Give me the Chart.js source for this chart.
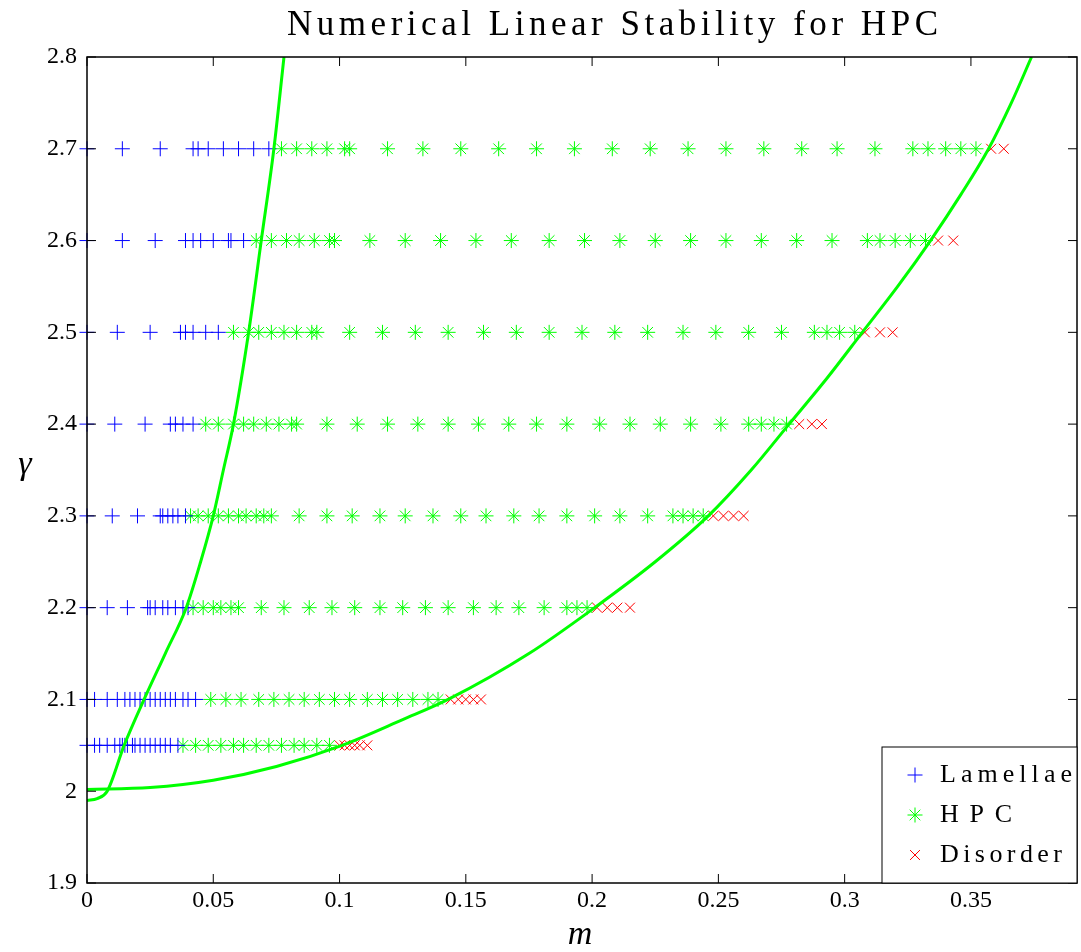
<!DOCTYPE html>
<html>
<head>
<meta charset="utf-8">
<script src="https://cdn.jsdelivr.net/npm/chart.js@4"></script>
<style>
body { margin: 0; background: #fff; }
</style>
</head>
<body>
<canvas id="stability" width="1081" height="952"></canvas>
<script>

// gamma rows of the numerical scan
var gammaLevels = [2.05, 2.1, 2.2, 2.3, 2.4, 2.5, 2.6, 2.7];

// m values per row, one list per gamma level
var lamellaeM = [
	[0.0, 0.003, 0.005, 0.008, 0.011, 0.013, 0.014, 0.015, 0.016, 0.018, 0.019, 0.021, 0.023, 0.025, 0.027, 0.029, 0.031, 0.033, 0.036],
	[0.0, 0.003, 0.008, 0.012, 0.015, 0.017, 0.019, 0.021, 0.023, 0.025, 0.027, 0.029, 0.031, 0.033, 0.035, 0.038, 0.040, 0.043],
	[0.0, 0.008, 0.016, 0.024, 0.025, 0.027, 0.030, 0.032, 0.035, 0.038, 0.040],
	[0.0, 0.010, 0.020, 0.029, 0.030, 0.032, 0.034, 0.036, 0.039],
	[0.0, 0.011, 0.023, 0.033, 0.035, 0.038, 0.042],
	[0.0, 0.012, 0.025, 0.037, 0.039, 0.042, 0.047, 0.052],
	[0.0, 0.014, 0.027, 0.039, 0.042, 0.045, 0.050, 0.056, 0.057, 0.062],
	[0.0, 0.014, 0.029, 0.042, 0.044, 0.048, 0.054, 0.060, 0.066, 0.072]
];
var hpcM = [
	[0.038, 0.043, 0.048, 0.053, 0.058, 0.062, 0.067, 0.072, 0.077, 0.082, 0.086, 0.091, 0.096],
	[0.049, 0.055, 0.061, 0.068, 0.074, 0.080, 0.086, 0.092, 0.098, 0.104, 0.111, 0.117, 0.123, 0.129, 0.135, 0.139],
	[0.042, 0.046, 0.050, 0.053, 0.057, 0.060, 0.069, 0.078, 0.088, 0.097, 0.106, 0.116, 0.125, 0.134, 0.143, 0.153, 0.162, 0.171, 0.181, 0.190, 0.194, 0.198],
	[0.041, 0.044, 0.048, 0.052, 0.056, 0.060, 0.063, 0.067, 0.070, 0.073, 0.084, 0.095, 0.105, 0.116, 0.126, 0.137, 0.148, 0.158, 0.169, 0.179, 0.190, 0.201, 0.211, 0.222, 0.232, 0.236, 0.240, 0.244],
	[0.047, 0.052, 0.058, 0.062, 0.066, 0.071, 0.076, 0.081, 0.083, 0.095, 0.107, 0.119, 0.131, 0.143, 0.155, 0.167, 0.178, 0.190, 0.203, 0.215, 0.227, 0.239, 0.251, 0.262, 0.267, 0.272, 0.277],
	[0.058, 0.064, 0.068, 0.073, 0.078, 0.083, 0.089, 0.091, 0.104, 0.117, 0.130, 0.143, 0.157, 0.170, 0.183, 0.196, 0.209, 0.222, 0.236, 0.249, 0.262, 0.275, 0.288, 0.293, 0.298, 0.304],
	[0.067, 0.073, 0.079, 0.084, 0.090, 0.096, 0.098, 0.112, 0.126, 0.140, 0.154, 0.168, 0.183, 0.197, 0.211, 0.225, 0.239, 0.253, 0.267, 0.281, 0.295, 0.309, 0.314, 0.320, 0.326, 0.332],
	[0.077, 0.083, 0.089, 0.095, 0.102, 0.104, 0.119, 0.133, 0.148, 0.163, 0.178, 0.193, 0.208, 0.223, 0.238, 0.253, 0.268, 0.283, 0.297, 0.312, 0.327, 0.333, 0.340, 0.346, 0.352]
];
var disorderM = [
	[0.100, 0.102, 0.104, 0.106, 0.108, 0.111],
	[0.144, 0.147, 0.150, 0.153, 0.156],
	[0.202, 0.206, 0.210, 0.215],
	[0.248, 0.252, 0.256, 0.260],
	[0.282, 0.287, 0.291],
	[0.308, 0.314, 0.319],
	[0.337, 0.343],
	[0.358, 0.363]
];

// the two boundary curves
var leftCurveM     = [0, 0.004, 0.008, 0.0147, 0.0226, 0.031, 0.0393, 0.045, 0.050, 0.054, 0.058, 0.064, 0.069, 0.074, 0.078];
var leftCurveGamma = [1.99, 1.992, 2.0, 2.05, 2.1, 2.15, 2.2, 2.25, 2.3, 2.35, 2.4, 2.5, 2.6, 2.7, 2.8];
var rightCurveM     = [0, 0.025, 0.05, 0.075, 0.101, 0.125, 0.143, 0.175, 0.201, 0.225, 0.246, 0.263, 0.278, 0.293, 0.307, 0.321, 0.334, 0.346, 0.357, 0.366, 0.374];
var rightCurveGamma = [2.002, 2.004, 2.012, 2.027, 2.05, 2.078, 2.1, 2.15, 2.2, 2.25, 2.3, 2.35, 2.4, 2.45, 2.5, 2.55, 2.6, 2.65, 2.7, 2.75, 2.8];

var xTicks = [0, 0.05, 0.1, 0.15, 0.2, 0.25, 0.3, 0.35];
var yTicks = [1.9, 2, 2.1, 2.2, 2.3, 2.4, 2.5, 2.6, 2.7, 2.8];
var seriesNames = ["Lamellae", "HPC", "Disorder"];

function toPoints(rows) {
	var pts = [];
	for (var i = 0; i < rows.length; i++) {
		for (var j = 0; j < rows[i].length; j++) {
			pts.push({x: rows[i][j], y: gammaLevels[i]});
		}
	}
	return pts;
}
function zipCurve(ms, gs) {
	var pts = [];
	for (var i = 0; i < ms.length; i++) pts.push({x: ms[i], y: gs[i]});
	return pts;
}

var serif = "'Liberation Serif', 'DejaVu Serif', serif";
var blue = 'rgb(0,0,255)', green = 'rgb(0,255,0)', red = 'rgb(255,0,0)';

function spaced(ctx, text, x, y, width) {
	// stretch letters like the matlab print
	ctx.letterSpacing = '0px';
	var w = ctx.measureText(text).width;
	var sp = width ? (width - w) / (text.length - 1) : 0;
	ctx.letterSpacing = sp + 'px';
	ctx.fillText(text, x, y);
	ctx.letterSpacing = '0px';
}

function marker(ctx, style, x, y, r) {
	ctx.beginPath();
	if (style == 'cross' || style == 'star') {
		ctx.moveTo(x - r, y); ctx.lineTo(x + r, y);
		ctx.moveTo(x, y - r); ctx.lineTo(x, y + r);
	}
	if (style == 'crossRot' || style == 'star') {
		var d = r * Math.SQRT1_2;
		ctx.moveTo(x - d, y - d); ctx.lineTo(x + d, y + d);
		ctx.moveTo(x - d, y + d); ctx.lineTo(x + d, y - d);
	}
	ctx.stroke();
}

var frame = {
	id: 'frame',
	beforeDraw: function(chart) {
		var ctx = chart.ctx;
		ctx.save();
		ctx.fillStyle = '#fff';
		ctx.fillRect(0, 0, chart.width, chart.height);
		ctx.restore();
	},
	afterDatasetsDraw: function(chart) {
		var ctx = chart.ctx, a = chart.chartArea;
		var xs = chart.scales.x, ys = chart.scales.y;
		ctx.save();

		// box and inward ticks on all four sides
		ctx.strokeStyle = '#000';
		ctx.lineWidth = 1.5;
		ctx.strokeRect(a.left, a.top, a.right - a.left, a.bottom - a.top);
		ctx.beginPath();
		xs.ticks.forEach(function(t) {
			var px = xs.getPixelForValue(t.value);
			ctx.moveTo(px, a.bottom); ctx.lineTo(px, a.bottom - 9);
			ctx.moveTo(px, a.top); ctx.lineTo(px, a.top + 9);
		});
		ys.ticks.forEach(function(t) {
			var py = ys.getPixelForValue(t.value);
			ctx.moveTo(a.left, py); ctx.lineTo(a.left + 9, py);
			ctx.moveTo(a.right, py); ctx.lineTo(a.right - 9, py);
		});
		ctx.lineWidth = 1;
		ctx.stroke();

		// title
		ctx.fillStyle = '#000';
		ctx.font = '35px ' + serif;
		ctx.textAlign = 'left';
		ctx.textBaseline = 'alphabetic';
		spaced(ctx, 'Numerical Linear Stability for HPC', 287, 35, 651);

		// axis labels
		ctx.font = 'italic 34px ' + serif;
		ctx.textAlign = 'center';
		ctx.fillText('m', 580, 944);
		ctx.fillText('\u03b3', 25, 474);

		// legend, lower right corner
		var lw = 195, lh = 136;
		var lx = a.right - lw, ly = a.bottom - lh;
		ctx.fillStyle = '#fff';
		ctx.fillRect(lx, ly, lw, lh);
		ctx.strokeStyle = '#000';
		ctx.lineWidth = 1;
		ctx.strokeRect(lx, ly, lw, lh);
		var styles = ['cross', 'star', 'crossRot'];
		var colors = [blue, green, red];
		var radii = [7.5, 7.5, 7];
		ctx.font = '26px ' + serif;
		ctx.textAlign = 'left';
		ctx.textBaseline = 'middle';
		for (var i = 0; i < seriesNames.length; i++) {
			var cy = ly + 28 + i * 40;
			ctx.strokeStyle = colors[i];
			ctx.lineWidth = 1;
			marker(ctx, styles[i], lx + 33, cy, radii[i]);
			ctx.fillStyle = '#000';
			spaced(ctx, seriesNames[i], lx + 58, cy, [132, 72, 122][i]);
		}
		ctx.restore();
	}
};

var ctx = document.getElementById("stability").getContext('2d');
var chart = new Chart(ctx, {
	type: 'scatter',
	data: {
		datasets: [
			{
				type: 'line', label: 'left boundary',
				data: zipCurve(leftCurveM, leftCurveGamma),
				borderColor: green, borderWidth: 3, pointRadius: 0,
				cubicInterpolationMode: 'monotone', fill: false
			},
			{
				type: 'line', label: 'right boundary',
				data: zipCurve(rightCurveM, rightCurveGamma),
				borderColor: green, borderWidth: 3, pointRadius: 0,
				cubicInterpolationMode: 'monotone', fill: false
			},
			{
				label: seriesNames[0], data: toPoints(lamellaeM),
				pointStyle: 'cross', pointRadius: 7.5, borderColor: blue, borderWidth: 1, clip: false
			},
			{
				label: seriesNames[1], data: toPoints(hpcM),
				pointStyle: 'star', pointRadius: 7.5, borderColor: green, borderWidth: 1, clip: false
			},
			{
				label: seriesNames[2], data: toPoints(disorderM),
				pointStyle: 'crossRot', pointRadius: 7, borderColor: red, borderWidth: 1, clip: false
			}
		]
	},
	options: {
		responsive: false,
		animation: false,
		events: [],
		layout: { autoPadding: false, padding: { top: 57, right: 4, left: 0, bottom: 0 } },
		plugins: {
			legend: { display: false },
			title: { display: false },
			tooltip: { enabled: false }
		},
		scales: {
			x: {
				type: 'linear', min: 0, max: 0.392,
				afterBuildTicks: function(s) { s.ticks = xTicks.map(function(v) { return {value: v}; }); },
				afterFit: function(s) { s.height = 69; },
				grid: { display: false, drawTicks: false },
				border: { display: false },
				ticks: {
					color: '#000', padding: 3,
					font: { family: serif, size: 24 },
					callback: function(v) { return String(v); }
				}
			},
			y: {
				type: 'linear', min: 1.9, max: 2.8,
				afterBuildTicks: function(s) { s.ticks = yTicks.map(function(v) { return {value: v}; }); },
				afterFit: function(s) { s.width = 87; },
				grid: { display: false, drawTicks: false },
				border: { display: false },
				ticks: {
					color: '#000', padding: 10,
					font: { family: serif, size: 24 },
					callback: function(v) { return String(v); }
				}
			}
		}
	},
	plugins: [frame]
});
</script>
</body>
</html>
